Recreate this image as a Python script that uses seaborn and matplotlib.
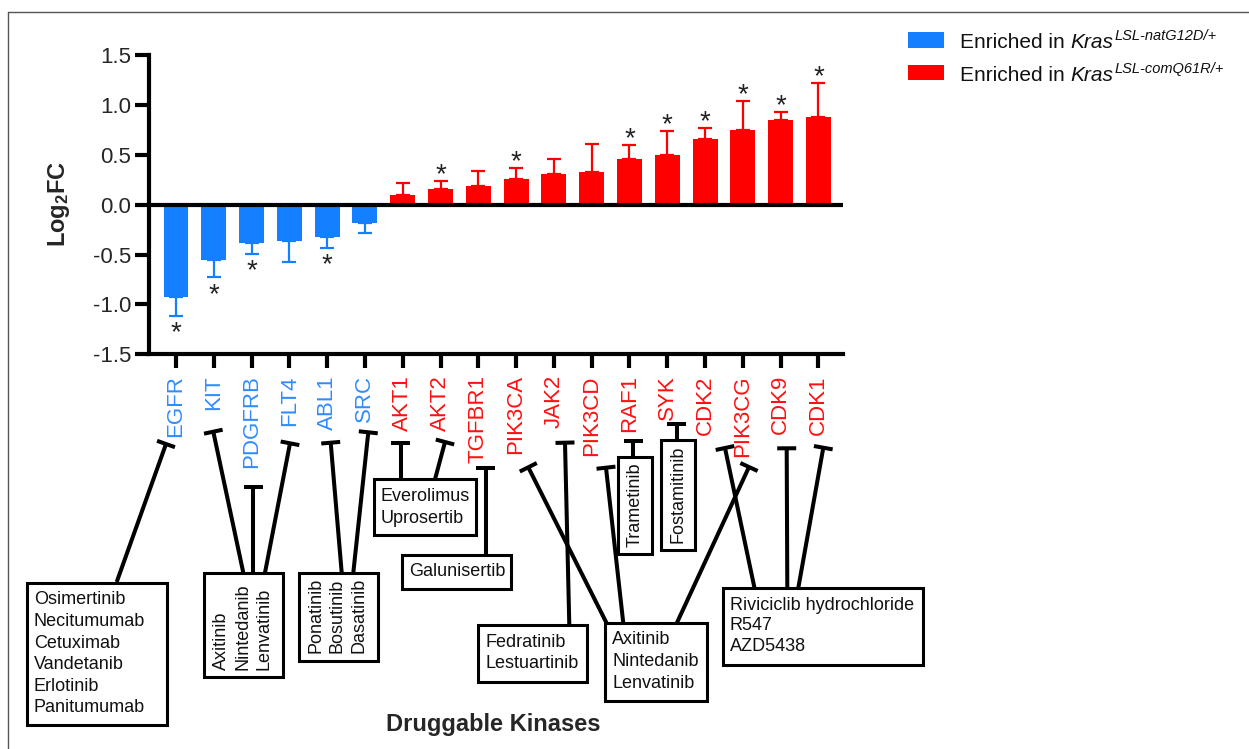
import numpy as np
import pandas as pd
import matplotlib
matplotlib.use('Agg')
import matplotlib.pyplot as plt
import seaborn as sns
from matplotlib.patches import Rectangle

# values
kinases = ['EGFR', 'KIT', 'PDGFRB', 'FLT4', 'ABL1', 'SRC', 'AKT1', 'AKT2', 'TGFBR1',
           'PIK3CA', 'JAK2', 'PIK3CD', 'RAF1', 'SYK', 'CDK2', 'PIK3CG', 'CDK9', 'CDK1']
log2fc = [-0.93, -0.55, -0.38, -0.36, -0.32, -0.18, 0.10, 0.16, 0.19,
          0.26, 0.31, 0.33, 0.46, 0.50, 0.66, 0.75, 0.85, 0.88]
sem = [0.19, 0.18, 0.11, 0.21, 0.11, 0.10, 0.12, 0.08, 0.15,
       0.11, 0.15, 0.28, 0.14, 0.24, 0.11, 0.29, 0.08, 0.34]
significant = [1, 1, 1, 0, 1, 0, 0, 1, 0, 1, 0, 0, 1, 1, 1, 1, 1, 1]
group = ['G12D'] * 6 + ['Q61R'] * 12
yticks = [-1.5, -1.0, -0.5, 0.0, 0.5, 1.0, 1.5]
legend_sup = {'G12D': 'LSL-natG12D/+', 'Q61R': 'LSL-comQ61R/+'}

W, H = 1249, 749
BLUE = '#1580ff'
RED = '#ff0000'
palette = {'G12D': BLUE, 'Q61R': RED}
label_colors = {'G12D': '#2f8cff', 'Q61R': '#ff1010'}

sns.set_theme(style='white')
plt.rcParams['font.family'] = ['Liberation Sans', 'DejaVu Sans']
plt.rcParams['axes.unicode_minus'] = False
plt.rcParams['mathtext.fontset'] = 'custom'
plt.rcParams['mathtext.rm'] = 'Liberation Sans'
plt.rcParams['mathtext.it'] = 'Liberation Sans:italic'
plt.rcParams['mathtext.bf'] = 'Liberation Sans:bold'

fig = plt.figure(figsize=(W / 100, H / 100), dpi=100)
ax = fig.add_axes([149 / W, 1 - 354.3 / H, (843 - 149) / W, (354.3 - 55) / H])

df = pd.DataFrame({'kinase': kinases, 'log2fc': log2fc, 'group': group})
sns.barplot(data=df, x='kinase', y='log2fc', hue='group', palette=palette,
            dodge=False, width=0.66, saturation=1, errorbar=None,
            legend=False, linewidth=0, ax=ax)

# one-sided error bars, pointing away from zero
x = np.arange(len(kinases))
vals = np.array(log2fc)
errs = np.array(sem)
lower = np.where(vals < 0, errs, 0)
upper = np.where(vals > 0, errs, 0)
grp = np.array(group)
for g, c in palette.items():
    m = grp == g
    ax.errorbar(x[m], vals[m], yerr=[lower[m], upper[m]], fmt='none',
                ecolor=c, elinewidth=1.6, capsize=5, capthick=1.6, zorder=0.5)

# significance stars
for i, (v, e, s) in enumerate(zip(vals, errs, significant)):
    if not s:
        continue
    end = v + e if v > 0 else v - e
    off = -1 if v > 0 else -17.5
    ax.annotate('*', xy=(i, end), xytext=(0, off), textcoords='offset points',
                ha='center', va='baseline', fontsize=20, color='#222222')

ax.axhline(0, color='black', lw=3, zorder=4)
ax.set_xlim(-0.714, 17.65)
ax.set_ylim(-1.5, 1.5)
ax.set_yticks(yticks)
ax.set_yticklabels([f'{t:.1f}' for t in yticks])
ax.set_xticks(x)
ax.set_xticklabels(kinases, rotation=90)
for lab, g in zip(ax.get_xticklabels(), group):
    lab.set_color(label_colors[g])
ax.tick_params(axis='both', length=10, width=3, color='black', direction='out',
               labelsize=16, left=True, bottom=True)
ax.tick_params(axis='x', pad=5)
ax.tick_params(axis='y', pad=3)
for side in ['top', 'right']:
    ax.spines[side].set_visible(False)
for side in ['left', 'bottom']:
    ax.spines[side].set_linewidth(3)
    ax.spines[side].set_color('black')

ax.set_ylabel(r'$\mathbf{Log_{2}FC}$', fontsize=17)
ax.yaxis.set_label_coords((59 - 149) / 694, (354.3 - 204) / 299.3)
ax.yaxis.label.set_va('center')
ax.set_xlabel('Druggable Kinases', fontsize=17, fontweight='bold')
ax.xaxis.set_label_coords((493 - 149) / 694, (354.3 - 725) / 299.3)
ax.xaxis.label.set_va('center')

# overlay in pixel coordinates for legend and drug annotations
ov = fig.add_axes([0, 0, 1, 1])
ov.set_xlim(0, W)
ov.set_ylim(H, 0)
ov.axis('off')
ov.patch.set_visible(False)
renderer = fig.canvas.get_renderer()

# legend (drawn piecewise so the italic superscript keeps its hyphen)
LEG_SIZE = 15
for (g, c), ytop, base in zip(palette.items(), [32, 64.5], [48, 81]):
    ov.add_patch(Rectangle((908, ytop), 36, 15.5, facecolor=c, edgecolor='none'))
    t = ov.text(960, base, 'Enriched in', fontsize=LEG_SIZE, ha='left',
                va='baseline', color='#111111')
    xx = t.get_window_extent(renderer=renderer).x1 + 0.278 * LEG_SIZE * 100 / 72
    t = ov.text(xx, base, 'Kras', fontsize=LEG_SIZE, style='italic', ha='left',
                va='baseline', color='#111111')
    xx = t.get_window_extent(renderer=renderer).x1 + 1
    ov.text(xx, base - 8.5, legend_sup[g], fontsize=LEG_SIZE * 0.7, style='italic',
            ha='left', va='baseline', color='#111111')

LW = 2.9


def inhibit(top, bottom, bar=19):
    (x0, y0), (x1, y1) = top, bottom
    ov.plot([x0, x1], [y0, y1], color='black', lw=LW, solid_capstyle='butt')
    d = np.array([x1 - x0, y1 - y0], dtype=float)
    d /= np.linalg.norm(d)
    n = np.array([-d[1], d[0]]) * bar / 2
    ov.plot([x0 - n[0], x0 + n[0]], [y0 - n[1], y0 + n[1]], color='black',
            lw=LW, solid_capstyle='butt')


def box(x0, y0, x1, y1):
    ov.add_patch(Rectangle((x0, y0), x1 - x0, y1 - y0, fill=False,
                           edgecolor='black', lw=2.2))


def lines_h(x0, ys, names):
    for y, t in zip(ys, names):
        ov.text(x0, y, t, fontsize=13, ha='left', va='center', color='#111111')


def lines_v(xs, y0, names):
    for xx, t in zip(xs, names):
        ov.text(xx, y0, t, fontsize=13, ha='center', va='bottom', rotation=90,
                color='#111111')


# EGFR
inhibit((166, 444), (116.7, 582))
box(26.7, 582.7, 166.7, 725)
lines_h(34, [600 + 21.6 * k for k in range(6)],
        ['Osimertinib', 'Necitumumab', 'Cetuximab', 'Vandetanib', 'Erlotinib', 'Panitumumab'])

# KIT / PDGFRB / FLT4
inhibit((213.3, 431.7), (243.3, 572.7))
inhibit((253.3, 486.7), (253.3, 572.7))
inhibit((290, 443.3), (265, 572.7))
box(204.3, 573.3, 282.7, 677.3)
lines_v([221.7, 242.7, 264.3], 670, ['Axitinib', 'Nintedanib', 'Lenvatinib'])

# ABL1 / SRC
inhibit((330.7, 442.7), (341.7, 572.7))
inhibit((368.3, 432.3), (353.3, 572.7))
box(299.3, 572.7, 378.3, 660.7)
lines_v([316, 337.3, 359], 653.3, ['Ponatinib', 'Bosutinib', 'Dasatinib'])

# AKT1 / AKT2
inhibit((400.7, 442.7), (400.7, 479.3))
inhibit((445, 442), (435, 479.3))
box(374, 479.3, 476, 535)
lines_h(380.7, [496.7, 518.3], ['Everolimus', 'Uprosertib'])

# TGFBR1
inhibit((486, 468.3), (486, 555))
box(401.7, 555, 511, 589.3)
lines_h(409.3, [571.7], ['Galunisertib'])

# JAK2
inhibit((565, 442.7), (569.3, 625))
box(478.3, 625, 587.3, 681.7)
lines_h(485.7, [642.3, 663.3], ['Fedratinib', 'Lestuartinib'])

# PIK3CA / PIK3CD / PIK3CG
inhibit((528.3, 467.3), (606.7, 623.3))
inhibit((606, 467.7), (623.3, 623.3))
inhibit((749, 467), (676.7, 623.3))
box(605.3, 623.3, 706.7, 700.7)
lines_h(612.3, [640, 661.7, 683.3], ['Axitinib', 'Nintedanib', 'Lenvatinib'])

# RAF1
inhibit((633.3, 440.7), (633.3, 457.3))
box(618.3, 457.3, 652.3, 554)
lines_v([635.5], 546.7, ['Trametinib'])

# SYK
inhibit((676.7, 424), (676.7, 440))
box(661, 440, 695, 550)
lines_v([678], 542.7, ['Fostamitinib'])

# CDK2 / CDK9 / CDK1
inhibit((725, 448), (754.5, 588))
inhibit((786.7, 448.3), (787.3, 588))
inhibit((823.3, 447.7), (798.3, 588))
box(722.7, 587.7, 922.7, 665)
lines_h(730, [605, 626, 646.7], ['Riviciclib hydrochloride', 'R547', 'AZD5438'])

# thin frame at the top-left of the panel
ov.plot([8, 8], [12, H], color='#555555', lw=1)
ov.plot([8, W], [12, 12], color='#555555', lw=1)

fig.savefig('out.png', dpi=100)
